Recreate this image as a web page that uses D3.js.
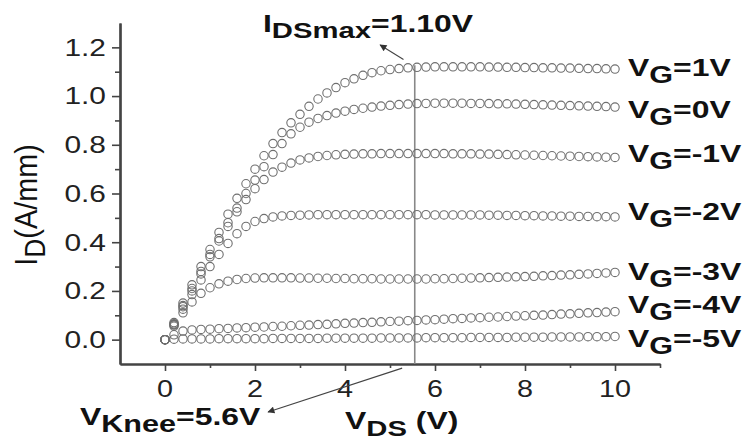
<!DOCTYPE html>
<html><head><meta charset="utf-8">
<script src="https://cdn.jsdelivr.net/npm/d3@7"></script>
<style>html,body{margin:0;padding:0;background:#fff;} svg{display:block}</style>
</head><body>
<svg id="chart" width="742" height="443"></svg>
<script>
// ---- data (V_DS sweep and I_D curves, A/mm) ----
const vds = [0,0.2,0.4,0.6,0.8,1.0,1.2,1.4,1.6,1.8,2.0,2.2,2.4,2.6,2.8,3.0,3.2,3.4,3.6,3.8,
  4.0,4.2,4.4,4.6,4.8,5.0,5.2,5.4,5.6,5.8,6.0,6.2,6.4,6.6,6.8,7.0,7.2,7.4,7.6,7.8,
  8.0,8.2,8.4,8.6,8.8,9.0,9.2,9.4,9.6,9.8,10.0];
const id_vg1 = [0,0.07,0.15,0.225,0.30,0.37,0.44,0.515,0.58,0.64,
  0.70,0.755,0.805,0.85,0.89,0.925,0.958,0.988,1.013,1.035,
  1.055,1.071,1.085,1.096,1.104,1.109,1.113,1.116,1.118,1.119,
  1.12,1.12,1.12,1.12,1.12,1.12,
  1.119,1.119,1.118,1.118,1.117,1.117,1.116,1.116,1.115,1.115,1.114,1.113,1.113,1.112,1.111];
const id_vg0 = [0,0.065,0.14,0.21,0.28,0.35,0.415,0.48,0.54,0.6,
  0.655,0.71,0.76,0.805,0.845,0.872,0.893,0.908,0.92,0.93,
  0.938,0.945,0.95,0.955,0.959,0.962,0.965,0.967,0.969,0.97,
  0.971,0.971,0.971,0.971,0.97,0.97,
  0.969,0.968,0.968,0.967,0.966,0.965,0.964,0.963,0.962,0.961,0.96,0.959,0.958,0.957,0.955];
const id_vgm1 = [0,0.062,0.135,0.2,0.27,0.34,0.405,0.465,0.525,0.575,
  0.62,0.657,0.688,0.708,0.725,0.738,0.746,0.752,0.756,0.759,
  0.761,0.762,0.763,0.763,0.764,0.764,0.764,0.764,0.764,0.764,
  0.764,0.764,0.763,0.763,0.763,0.762,
  0.762,0.761,0.76,0.759,0.758,0.757,0.756,0.755,0.754,0.753,0.752,0.751,0.75,0.749,0.748];
const id_vgm2 = [0,0.06,0.125,0.185,0.245,0.3,0.35,0.395,0.435,0.465,
  0.485,0.497,0.504,0.508,0.51,0.511,0.512,0.513,0.513,0.513,
  0.513,0.513,0.513,0.513,0.513,0.513,0.513,0.513,0.513,0.513,
  0.512,0.512,0.512,0.512,0.512,0.512,
  0.511,0.511,0.51,0.51,0.509,0.509,0.508,0.508,0.507,0.507,0.506,0.506,0.505,0.505,0.504];
const id_vgm3 = [0,0.055,0.11,0.155,0.19,0.213,0.229,0.24,0.247,0.251,
  0.253,0.254,0.254,0.254,0.254,0.253,0.253,0.252,0.252,0.251,
  0.251,0.25,0.25,0.25,0.249,0.249,0.249,0.249,0.249,0.249,
  0.25,0.25,0.251,0.252,0.253,0.254,
  0.255,0.256,0.257,0.258,0.259,0.26,0.262,0.263,0.265,0.266,0.268,0.27,0.272,0.274,0.276];
const id_vgm4 = [0,0.02,0.035,0.04,0.042,0.043,0.045,0.046,0.048,0.049,
  0.051,0.052,0.054,0.055,0.057,0.059,0.06,0.062,0.063,0.065,
  0.067,0.068,0.07,0.071,0.073,0.075,0.076,0.078,0.079,0.081,
  0.082,0.084,0.086,0.087,0.089,0.09,
  0.092,0.093,0.095,0.097,0.098,0.1,0.101,0.103,0.105,0.106,0.108,0.11,0.111,0.113,0.115];
const id_vgm5 = [0,0.002,0.003,0.003,0.003,0.003,0.004,0.004,0.004,0.004,
  0.004,0.004,0.005,0.005,0.005,0.005,0.005,0.005,0.006,0.006,
  0.006,0.006,0.006,0.006,0.007,0.007,0.007,0.007,0.007,0.008,
  0.008,0.008,0.008,0.008,0.009,0.009,
  0.009,0.009,0.009,0.01,0.01,0.01,0.01,0.011,0.011,0.011,0.011,0.012,0.012,0.012,0.013];
const seriesNames = ["1V","0V","-1V","-2V","-3V","-4V","-5V"];
const seriesValues = [id_vg1,id_vg0,id_vgm1,id_vgm2,id_vgm3,id_vgm4,id_vgm5];
const labelLevels = [1.116,0.946,0.764,0.525,0.281,0.145,0.004];
const yTicks = [0.0,0.2,0.4,0.6,0.8,1.0,1.2];
const yMinor = [0.1,0.3,0.5,0.7,0.9,1.1];
const xTicks = [0,2,4,6,8,10];
const xMinor = [1,3,5,7,9,11];
const kneeV = 5.55, idsMax = 1.118;

// ---- drawing ----
const FONT = '"Liberation Sans", Arial, Helvetica, sans-serif';
const SX = 1.33;
const svg = d3.select('#chart');
const x = d3.scaleLinear([-1, 11], [120, 660]);
const y = d3.scaleLinear([-0.1, 1.3], [364, 23]);

function rich(parent, px, py, parts, o = {}) {
  const size = o.size || 24, sub = o.sub || 22, subdy = o.subdy || 7;
  let tr = `translate(${px},${py})`;
  if (o.rotate) tr += ` rotate(${o.rotate})`;
  tr += ` scale(${o.sx || SX},${o.sy || 1})`;
  const t = parent.append('text').attr('transform', tr)
    .attr('font-family', FONT).attr('font-size', size)
    .attr('font-weight', o.weight || 'bold').attr('text-anchor', o.anchor || 'start')
    .attr('fill', '#111');
  let shift = 0;
  parts.forEach(p => {
    const s = t.append('tspan').text(p.t);
    const target = p.sub ? subdy : 0;
    s.attr('dy', target - shift); shift = target;
    if (p.sub) s.attr('font-size', sub);
  });
  return t;
}

// axes
const axY = d3.axisLeft(y).tickValues(yTicks).tickSize(8).tickSizeOuter(0).tickFormat('');
const axYm = d3.axisLeft(y).tickValues(yMinor).tickSize(5).tickSizeOuter(0).tickFormat('');
const axX = d3.axisBottom(x).tickValues(xTicks).tickSize(7).tickSizeOuter(0).tickFormat('');
const axXm = d3.axisBottom(x).tickValues(xMinor).tickSize(4).tickSizeOuter(0).tickFormat('');
[[axY, `translate(120,0)`], [axYm, `translate(120,0)`], [axX, `translate(0,364)`], [axXm, `translate(0,364)`]]
  .forEach(([a, t]) => {
    const g = svg.append('g').attr('transform', t).call(a);
    g.select('.domain').attr('stroke', '#444').attr('stroke-width', 2.2);
    g.selectAll('.tick line').attr('stroke', '#444').attr('stroke-width', 1.6);
  });

// tick labels
yTicks.forEach(v => {
  svg.append('text').attr('transform', `translate(106,${y(v) + 8.3}) scale(1.3,1)`)
    .attr('text-anchor', 'end').attr('font-family', FONT).attr('font-size', 23)
    .attr('fill', '#222').text(d3.format('.1f')(v));
});
xTicks.forEach(v => {
  svg.append('text').attr('transform', `translate(${x(v)},${396.5}) scale(1.25,1)`)
    .attr('text-anchor', 'middle').attr('font-family', FONT).attr('font-size', 23)
    .attr('fill', '#222').text(v);
});

// knee vertical line
svg.append('line').attr('x1', x(kneeV)).attr('x2', x(kneeV))
  .attr('y1', y(-0.1)).attr('y2', y(idsMax) - 2)
  .attr('stroke', '#888').attr('stroke-width', 1.6);

// curves as circle markers
seriesValues.forEach((vals) => {
  svg.append('g').selectAll('circle').data(vals).join('circle')
    .attr('cx', (d, i) => x(vds[i])).attr('cy', d => y(d)).attr('r', 4.2)
    .attr('fill', 'none').attr('stroke', '#6f6f6f').attr('stroke-width', 1.1);
});

// series labels
seriesNames.forEach((n, i) => {
  rich(svg, x(10) + 13, y(labelLevels[i]) + 8.6, [{t: 'V'}, {t: 'G', sub: true}, {t: '=' + n}], {size: 24, sub: 23, subdy: 7});
});

// arrows
const defs = svg.append('defs');
defs.append('marker').attr('id', 'ah').attr('viewBox', '0 0 10 10').attr('refX', 9).attr('refY', 5)
  .attr('markerWidth', 9).attr('markerHeight', 7).attr('orient', 'auto-start-reverse')
  .attr('markerUnits', 'userSpaceOnUse')
  .append('path').attr('d', 'M0,0 L10,5 L0,10 Z').attr('fill', '#333');
svg.append('line').attr('x1', x(5.3)).attr('y1', y(1.15)).attr('x2', x(4.78)).attr('y2', y(1.21))
  .attr('stroke', '#444').attr('stroke-width', 1.1).attr('marker-end', 'url(#ah)');
svg.append('line').attr('x1', x(5.27)).attr('y1', y(-0.117)).attr('x2', x(2.29)).attr('y2', y(-0.297))
  .attr('stroke', '#444').attr('stroke-width', 1.1).attr('marker-end', 'url(#ah)');

// annotations
rich(svg, 263, 32, [{t: 'I'}, {t: 'DSmax', sub: true}, {t: '=1.10V'}], {size: 24, sub: 22, subdy: 6});
rich(svg, 80, 425, [{t: 'V'}, {t: 'Knee', sub: true}, {t: '=5.6V'}], {size: 24, sub: 23, subdy: 7});

// axis titles
rich(svg, 345, 429, [{t: 'V'}, {t: 'DS', sub: true}, {t: ' (V)'}], {size: 24, sub: 22, subdy: 7});
rich(svg, 37, 205, [{t: 'I'}, {t: 'D', sub: true}, {t: '(A/mm)'}],
  {size: 24, sub: 22, subdy: 6, weight: 'normal', rotate: -90, sx: 1.2, sy: 1.3, anchor: 'middle'});
</script>
</body></html>
